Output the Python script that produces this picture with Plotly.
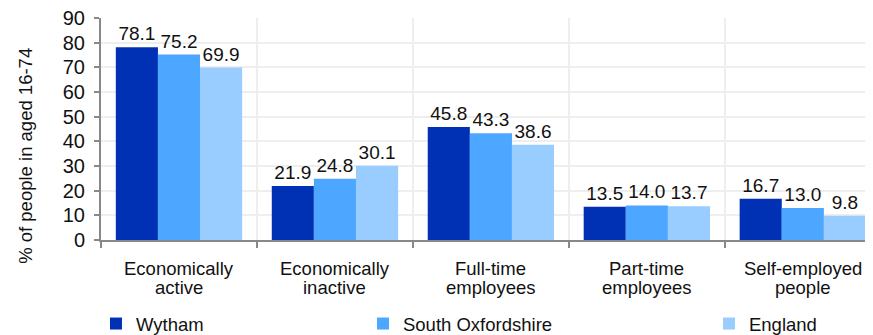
import plotly.graph_objects as go

categories = ["Economically<br>active", "Economically<br>inactive", "Full-time<br>employees",
              "Part-time<br>employees", "Self-employed<br>people"]
wytham = [78.1, 21.9, 45.8, 13.5, 16.7]
south_oxon = [75.2, 24.8, 43.3, 14.0, 13.0]
england = [69.9, 30.1, 38.6, 13.7, 9.8]

series = [("Wytham", wytham, "#0030B4", "legend"),
          ("South Oxfordshire", south_oxon, "#4DA6FF", "legend2"),
          ("England", england, "#99CCFF", "legend3")]

font = "Liberation Sans, Arial, sans-serif"

fig = go.Figure()
for name, vals, col, leg in series:
    fig.add_trace(go.Bar(x=categories, y=vals, name=name, marker_color=col,
                         marker_line_width=0, legend=leg, showlegend=True,
                         text=[f"{v:.1f}" for v in vals], textposition="outside",
                         textangle=0, cliponaxis=False,
                         textfont=dict(size=19, color="#111111", family=font)))

# category labels drawn as two tight lines (tighter than plotly's tick line height)
for cat in categories:
    for i, line in enumerate(cat.split("<br>")):
        fig.add_annotation(x=cat, xref="x", y=[-0.13, -0.212][i], yref="paper",
                           text=line, showarrow=False, yanchor="middle",
                           font=dict(size=18.5, color="#111111", family=font))

# y axis title, sits a little below the plot's centre in the original
fig.add_annotation(x=-0.0972, xref="paper", y=0.379, yref="paper",
                   text="% of people in aged 16-74", textangle=-90, showarrow=False,
                   xanchor="center", yanchor="middle",
                   font=dict(size=18.5, color="#111111", family=font))

leg_common = dict(orientation="h", yanchor="middle", y=0.0336, xanchor="left",
                  xref="container", yref="container",
                  font=dict(size=18.5, color="#111111", family=font),
                  bgcolor="rgba(0,0,0,0)", itemwidth=30)

# page body has an 8px margin, so the figure is 8px smaller than the window
fig.update_layout(
    width=865, height=327,
    margin=dict(l=93, r=0, t=10, b=95),
    barmode="group", bargap=0.19, bargroupgap=0,
    plot_bgcolor="white", paper_bgcolor="white",
    font=dict(family=font, size=18, color="#111111"),
    showlegend=True,
    legend=dict(leg_common, x=0.1017),
    legend2=dict(leg_common, x=0.4104),
    legend3=dict(leg_common, x=0.8104),
    xaxis=dict(range=[-0.5, 4.45], tickson="boundaries", showgrid=True,
               gridcolor="#EEEEEE", gridwidth=2, showline=True, linecolor="#888888",
               linewidth=2, ticks="outside", ticklen=6, tickcolor="#888888",
               tickwidth=2, automargin=False, showticklabels=False),
    yaxis=dict(range=[0, 90], dtick=10, showgrid=True, gridcolor="#EEEEEE",
               gridwidth=2, showline=True, linecolor="#888888", linewidth=2,
               ticks="outside", ticklen=5, tickcolor="#888888", tickwidth=2,
               ticklabelstandoff=5, ticklabeloverflow="allow",
               zeroline=False, automargin=False, tickfont=dict(size=20, color="#111111")),
)

fig.write_html("out.html")
